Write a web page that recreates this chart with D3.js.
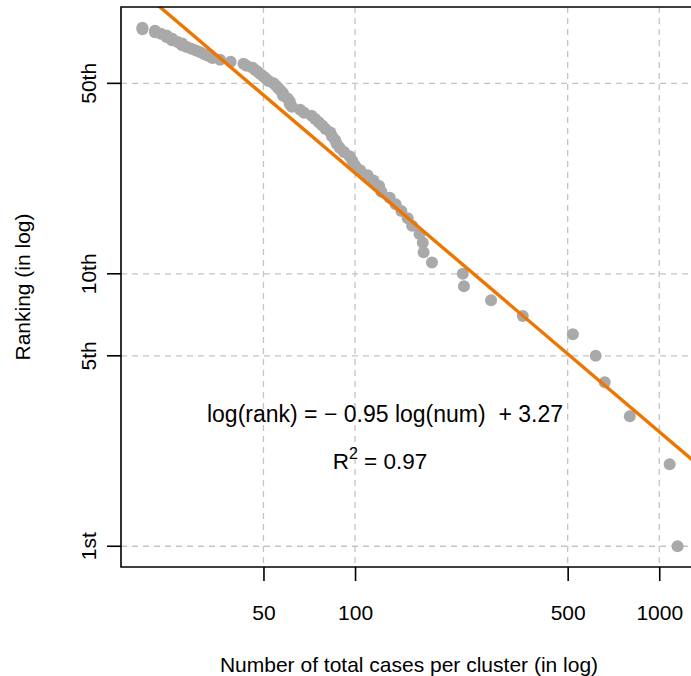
<!DOCTYPE html>
<html><head><meta charset="utf-8">
<script src="https://cdn.jsdelivr.net/npm/d3@7"></script>
<style>
body{margin:0;background:#fff}
text{font-family:"Liberation Sans",Arial,Helvetica,sans-serif;fill:#000}
</style>
</head><body>
<svg id="chart" width="691" height="676"></svg>
<script>
// rank (1 = largest cluster) and number of total cases per cluster
const ranks = d3.range(1, 81);
const cases = [
  1149, 1082, 800, 662, 618, 520, 356, 280, 228, 226,
  179, 168, 167, 163, 154, 149, 142, 136, 130, 122,
  120, 115, 110, 104, 100, 98, 96, 92, 89, 87,
  86, 84, 83, 80, 78, 76, 74, 72, 68, 66,
  62, 61, 61, 60, 58, 58, 57, 56, 55, 54,
  52, 51, 50, 49, 48, 47, 46, 44, 43, 39,
  36, 34, 33, 32, 31, 30, 29, 28, 27, 27,
  26, 25, 25, 24, 24, 23, 22, 22, 20, 20
];
const xTicks = [50, 100, 500, 1000];
const xTickLabels = ["50", "100", "500", "1000"];
const yTicks = [1, 5, 10, 50];
const yTickLabels = ["1st", "5th", "10th", "50th"];
const fitSlope = -0.95, fitIntercept = 3.27, fitR2 = 0.97;

const FS = 21;
const svg = d3.select("#chart");
const pLeft = 121, pRight = 699, pTop = 7, pBottom = 567;

function padLog(ext) {
  const a = Math.log10(ext[0]), b = Math.log10(ext[1]), d = (b - a) * 0.04;
  return [Math.pow(10, a - d), Math.pow(10, b + d)];
}
const x = d3.scaleLog().domain(padLog(d3.extent(cases))).range([pLeft, pRight]);
const y = d3.scaleLog().domain(padLog(d3.extent(ranks))).range([pBottom, pTop]);

svg.append("defs").append("clipPath").attr("id", "clip")
  .append("rect").attr("x", pLeft).attr("y", pTop).attr("width", pRight - pLeft).attr("height", pBottom - pTop);

const plot = svg.append("g").attr("clip-path", "url(#clip)");

// grid
plot.selectAll("line.gx").data(xTicks).join("line").attr("class", "gx")
  .attr("x1", d => x(d)).attr("x2", d => x(d)).attr("y1", pTop).attr("y2", pBottom)
  .attr("stroke", "#c4c4c4").attr("stroke-width", 1.3).attr("stroke-dasharray", "6,5");
plot.selectAll("line.gy").data(yTicks).join("line").attr("class", "gy")
  .attr("y1", d => y(d)).attr("y2", d => y(d)).attr("x1", pLeft).attr("x2", pRight)
  .attr("stroke", "#c4c4c4").attr("stroke-width", 1.3).attr("stroke-dasharray", "6,5");

// points
const pts = ranks.map((r, i) => ({rank: r, num: cases[i]}));
plot.selectAll("circle").data(pts).join("circle")
  .attr("cx", d => x(d.num)).attr("cy", d => y(d.rank)).attr("r", 6)
  .attr("fill", "#a9a9a9");

// fitted line
const xd = x.domain();
const fit = xd.map(v => ({num: v, rank: Math.pow(10, fitIntercept + fitSlope * Math.log10(v))}));
plot.append("path").datum(fit)
  .attr("d", d3.line().x(d => x(d.num)).y(d => y(d.rank)))
  .attr("stroke", "#ee7600").attr("stroke-width", 3.4).attr("fill", "none");

// box
svg.append("path")
  .attr("d", `M${pRight + 5},${pTop}H${pLeft}V${pBottom}H${pRight + 5}`)
  .attr("fill", "none").attr("stroke", "#000").attr("stroke-width", 1.6);

// axes
const xAxis = d3.axisBottom(x).tickValues(xTicks).tickFormat((d, i) => xTickLabels[i]).tickSize(14).tickPadding(24);
const gx = svg.append("g").attr("transform", `translate(0,${pBottom})`).call(xAxis);
gx.select(".domain").remove();
gx.selectAll(".tick line").attr("stroke", "#000").attr("stroke-width", 1.6);
gx.selectAll(".tick text").attr("font-size", FS).attr("font-family", "Liberation Sans, Arial, sans-serif").attr("fill", "#000");

const gy = svg.append("g").attr("transform", `translate(${pLeft},0)`);
gy.selectAll("line").data(yTicks).join("line")
  .attr("x1", -14).attr("x2", 0).attr("y1", d => y(d)).attr("y2", d => y(d))
  .attr("stroke", "#000").attr("stroke-width", 1.6);
gy.selectAll("text").data(yTicks).join("text")
  .attr("transform", d => `translate(${96 - pLeft},${y(d)}) rotate(-90)`)
  .attr("text-anchor", "middle").attr("font-size", FS)
  .text((d, i) => yTickLabels[i]);

// titles
svg.append("text").attr("x", (pLeft + pRight) / 2 - 1).attr("y", 672)
  .attr("text-anchor", "middle").attr("font-size", FS)
  .text("Number of total cases per cluster (in log)");
svg.append("text").attr("transform", `translate(30,${(pTop + pBottom) / 2}) rotate(-90)`)
  .attr("text-anchor", "middle").attr("font-size", FS)
  .text("Ranking (in log)");

// annotation
svg.append("text").attr("x", 385).attr("y", 422).attr("text-anchor", "middle")
  .attr("font-size", 23).style("white-space", "pre")
  .text(`log(rank) = \u2212 ${Math.abs(fitSlope).toFixed(2)} log(num)  + ${fitIntercept.toFixed(2)}`);
const r2t = svg.append("text").attr("x", 380).attr("y", 469).attr("text-anchor", "middle").attr("font-size", 22.5);
r2t.append("tspan").text("R");
r2t.append("tspan").attr("dy", -10).attr("font-size", 16).text("2");
r2t.append("tspan").attr("dy", 10).text(` = ${fitR2.toFixed(2)}`);
</script>
</body></html>
